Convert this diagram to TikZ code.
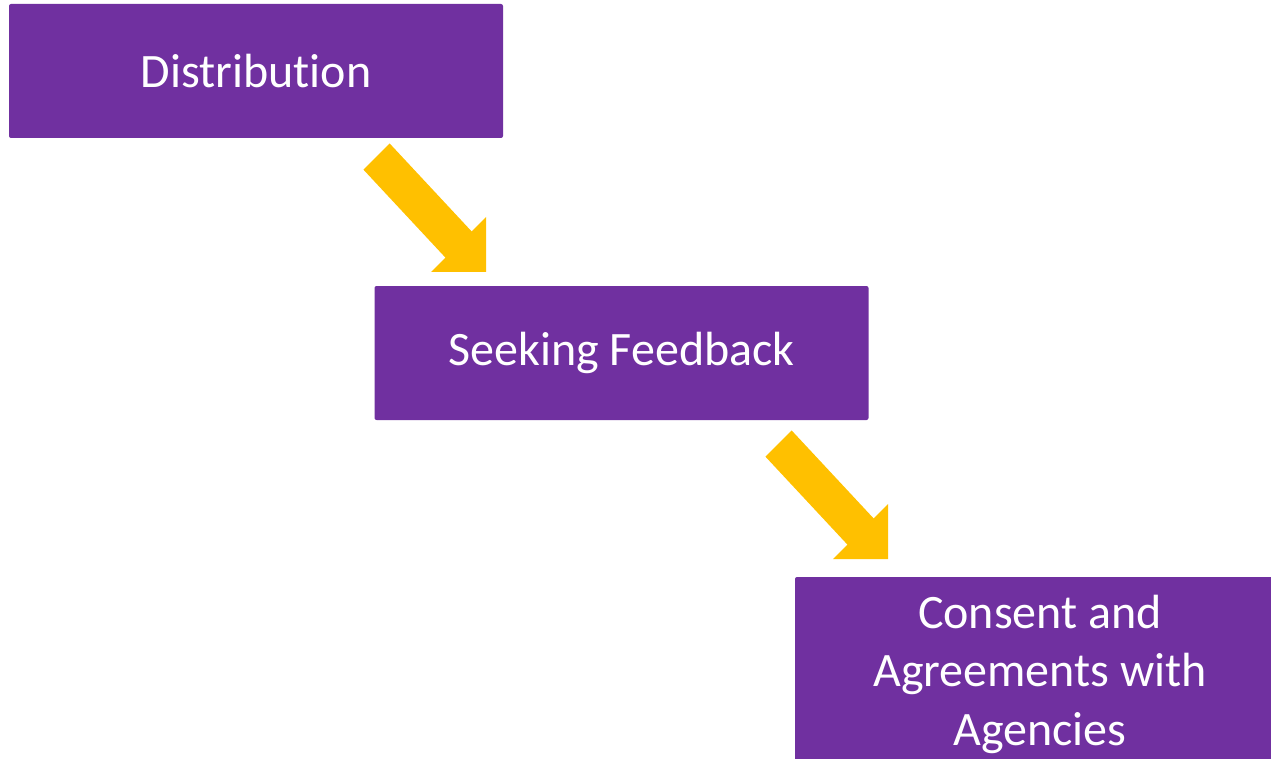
\documentclass[tikz,border=0pt]{standalone}
\usepackage{fontspec}
\setmainfont{Carlito}[Ligatures=NoCommon]
\definecolor{boxpurple}{HTML}{7030A0}
\definecolor{arrowgold}{HTML}{FFC000}
\tikzset{
  stepbox/.style={fill=boxpurple, text=white, rounded corners=2pt,
    minimum width=494, minimum height=134, inner sep=0pt, align=center,
    font=\fontsize{48}{58.5}\selectfont},
  arrowfill/.style={fill=arrowgold}
}
\begin{document}
\begin{tikzpicture}[x=1pt,y=-1pt]
\def\flowarrow{(363.4,169.6) -- (389.6,143.4) -- (471.6,231.4) -- (486,217)
  -- (486,272) -- (431,272) -- (445.4,257.6) -- cycle}

\useasboundingbox (0,0) rectangle (1271,759);
\clip (0,0) rectangle (1271,759);

\node[stepbox] (dist) at (256,71) {Distribution};
\node[stepbox] (seek) at (621.5,353) {\raisebox{-2pt}{Seeking Feedback}};
\node[stepbox, minimum width=490, minimum height=194] (consent) at (1040,674)
  {Consent and\\Agreements with\\Agencies};

% yellow block arrows between the steps
\fill[arrowfill] \flowarrow;
\fill[arrowfill, shift={(402,287)}] \flowarrow;
\end{tikzpicture}
\end{document}
